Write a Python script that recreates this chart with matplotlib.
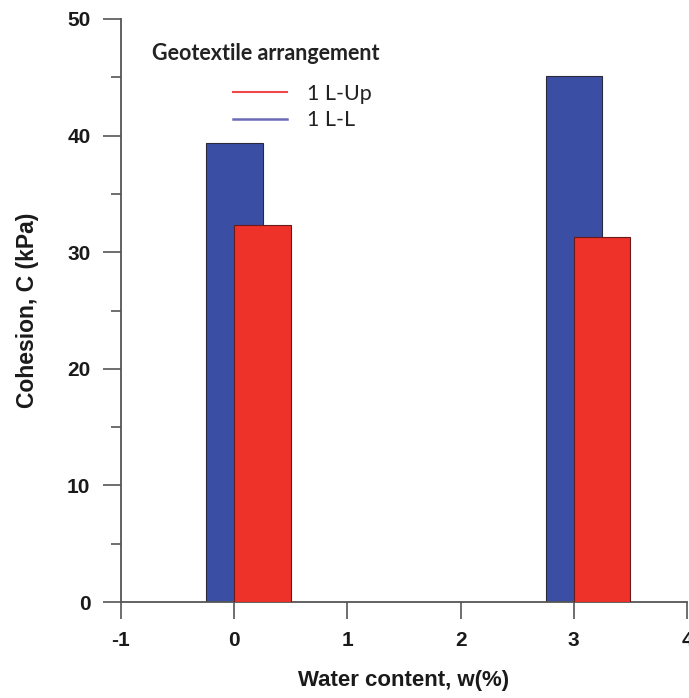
import matplotlib
matplotlib.use("Agg")
import matplotlib.pyplot as plt
from matplotlib.lines import Line2D
from matplotlib.ticker import MultipleLocator

# Cohesion for each geotextile arrangement at two water contents
water_content = [0, 3]
cohesion_l_l = [39.4, 45.1]    # 1 L-L
cohesion_l_up = [32.3, 31.3]   # 1 L-Up
series_labels = ["1 L-Up", "1 L-L"]
legend_title = "Geotextile arrangement"
x_ticks = [-1, 0, 1, 2, 3, 4]
y_ticks = [0, 10, 20, 30, 40, 50]

blue = "#3a4fa3"
red = "#ee3129"
axis_color = "#555555"
W, H = 689, 698

fig = plt.figure(figsize=(W / 100, H / 100), dpi=100)
ax = fig.add_axes([121 / W, 96 / H, (687 - 121) / W, (602 - 19) / H])

ax.bar(water_content, cohesion_l_l, width=0.5, align="center",
       color=blue, edgecolor="#2a2a3a", linewidth=0.8, zorder=2)
ax.bar(water_content, cohesion_l_up, width=0.5, align="edge",
       color=red, edgecolor="#6a1a1a", linewidth=0.8, zorder=3)

ax.set_xlim(-1, 4)
ax.set_ylim(0, 50)
ax.set_xticks(x_ticks)
ax.set_yticks(y_ticks)
ax.yaxis.set_minor_locator(MultipleLocator(5))

for side in ("top", "right"):
    ax.spines[side].set_visible(False)
for side in ("left", "bottom"):
    ax.spines[side].set_color(axis_color)
    ax.spines[side].set_linewidth(1.3)

ax.tick_params(axis="y", which="major", direction="out", length=13,
               width=1.2, color=axis_color, pad=9)
ax.tick_params(axis="y", which="minor", direction="out", length=7,
               width=1.2, color=axis_color)
ax.tick_params(axis="x", which="major", direction="out", length=12,
               width=1.2, color=axis_color, pad=9)

tick_font = {"family": "Liberation Sans", "weight": "bold", "size": 15}
ax.set_xticklabels([str(t) for t in x_ticks], fontdict=tick_font)
ax.set_yticklabels([str(t) for t in y_ticks], fontdict=tick_font)
for lbl in ax.get_xticklabels() + ax.get_yticklabels():
    lbl.set_color("#1a1a1a")

ax.set_xlabel("Water content, w(%)", family="Liberation Sans",
              weight="bold", size=16, labelpad=14, color="#1a1a1a")
ax.set_ylabel("Cohesion, C (kPa)", family="Liberation Sans",
              weight="bold", size=16.5, labelpad=20, color="#1a1a1a")

# legend: title on its own line, then line handles for each arrangement
fig.text(152 / W, 1 - 53 / H, legend_title, family="Lato",
         weight="bold", size=15.5, color="#222222", va="center", ha="left")
handles = [Line2D([], [], color="#f04848", lw=1.5),
           Line2D([], [], color="#6a6ab8", lw=1.8)]
leg = ax.legend(handles, series_labels, loc="upper left",
                bbox_to_anchor=(233 / W, 1 - 84 / H),
                bbox_transform=fig.transFigure, borderaxespad=0,
                borderpad=0, frameon=False, handlelength=2.5,
                handletextpad=0.95, labelspacing=0.3,
                prop={"family": "Lato", "size": 15.5})
for t in leg.get_texts():
    t.set_color("#222222")

fig.savefig("out.png", dpi=100)
